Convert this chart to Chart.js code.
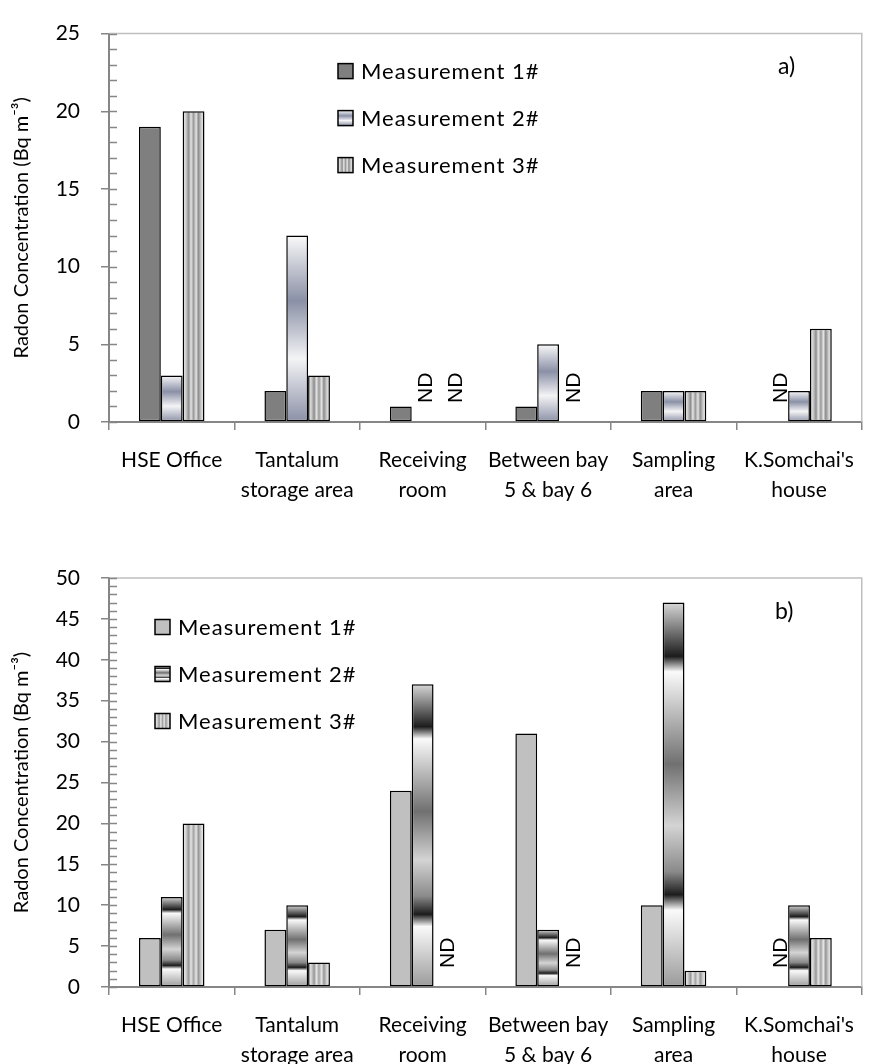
<!DOCTYPE html>
<html>
<head>
<meta charset="utf-8">
<script src="https://cdn.jsdelivr.net/npm/chart.js@4.4.1/dist/chart.umd.min.js"></script>
<style>
  body { margin: 0; background: #fff; }
  .box { position: relative; width: 869px; }
</style>
</head>
<body>
<div class="box" style="height:530px"><canvas id="chartA"></canvas></div>
<div class="box" style="height:534px"><canvas id="chartB"></canvas></div>
<script>
// categories and measurements (null = ND, not detected)
const categories = [
  ['HSE Office'],
  ['Tantalum', 'storage area'],
  ['Receiving', 'room'],
  ['Between bay', '5 & bay 6'],
  ['Sampling', 'area'],
  ["K.Somchai's", 'house']
];
const seriesNames = ['Measurement 1#', 'Measurement 2#', 'Measurement 3#'];

// panel a)
const aMeas1 = [19, 2, 1, 1, 2, null];
const aMeas2 = [3, 12, null, 5, 2, 2];
const aMeas3 = [20, 3, null, null, 2, 6];
const aTickLabels = [0, 5, 10, 15, 20, 25];

// panel b)
const bMeas1 = [6, 7, 24, 31, 10, null];
const bMeas2 = [11, 10, 37, 7, 47, 10];
const bMeas3 = [20, 3, null, null, 2, 6];
const bTickLabels = [0, 5, 10, 15, 20, 25, 30, 35, 40, 45, 50];

const CAT_PCT = 0.522;
const AXIS_GREY = '#868686';

// fill styles (solid, gradient along bar height, gradient across bar width)
const styleA = [
  { kind: 'solid', color: '#7f7f7f' },
  { kind: 'vgrad', stops: [[0, '#fafafa'], [0.35, '#8a90a6'], [0.66, '#f4f4f6'], [1, '#8a90a6']] },
  { kind: 'hgrad', stops: [[0, '#ececec'], [0.14, '#d0d0d0'], [0.28, '#8c8c8c'], [0.38, '#e4e4e4'], [0.5, '#9a9a9a'],
                           [0.62, '#e4e4e4'], [0.72, '#8c8c8c'], [0.86, '#d0d0d0'], [1, '#ececec']] }
];
const styleB = [
  { kind: 'solid', color: '#c0c0c0' },
  { kind: 'vgrad', stops: [[0, '#d8d8d8'], [0.14, '#1c1c1c'], [0.18, '#fafafa'], [0.42, '#707070'], [0.58, '#d4d4d4'],
                           [0.7, '#8a8a8a'], [0.76, '#1c1c1c'], [0.8, '#fafafa'], [1, '#9a9a9a']] },
  { kind: 'hgrad', stops: [[0, '#f0f0f0'], [0.14, '#d6d6d6'], [0.28, '#969696'], [0.38, '#e6e6e6'], [0.5, '#a4a4a4'],
                           [0.62, '#e6e6e6'], [0.72, '#969696'], [0.86, '#d6d6d6'], [1, '#f0f0f0']] }
];

function paint(ctx, st, x0, y0, x1, y1) {
  if (st.kind === 'solid') return st.color;
  if (![x0, y0, x1, y1].every(Number.isFinite) || x0 === x1 || y0 === y1) return st.stops[0][1];
  const g = st.kind === 'vgrad' ? ctx.createLinearGradient(0, y0, 0, y1) : ctx.createLinearGradient(x0, 0, x1, 0);
  st.stops.forEach(s => g.addColorStop(s[0], s[1]));
  return g;
}

function barFill(st) {
  return function (c) {
    if (st.kind === 'solid') return st.color;
    const chart = c.chart, xs = chart.scales.x, ys = chart.scales.y;
    if (c.type !== 'data' || !xs || !ys || c.raw == null) return st.stops[0][1];
    const barW = xs.width / chart.data.labels.length * CAT_PCT / 3;
    const cx = xs.getPixelForValue(c.dataIndex) + (c.datasetIndex - 1) * barW;
    return paint(chart.ctx, st, cx - barW / 2, ys.getPixelForValue(c.raw), cx + barW / 2, ys.getPixelForValue(0));
  };
}

// plot frame + minor ticks inside the plot
const framePlugin = {
  id: 'frame',
  beforeDatasetsDraw(chart) {
    const { ctx, chartArea: a } = chart;
    const ys = chart.scales.y;
    ctx.save();
    ctx.strokeStyle = '#bfbfbf';
    ctx.lineWidth = 1.5;
    ctx.beginPath();
    ctx.moveTo(a.left, a.top);
    ctx.lineTo(a.right, a.top);
    ctx.lineTo(a.right, a.bottom);
    ctx.stroke();
    ctx.strokeStyle = AXIS_GREY;
    ctx.beginPath();
    ys.ticks.forEach(t => {
      const py = Math.round(ys.getPixelForValue(t.value)) + 0.5;
      ctx.moveTo(a.left, py);
      ctx.lineTo(a.left + 8, py);
    });
    ctx.stroke();
    ctx.restore();
  }
};

// "ND" marks for missing values
const ndPlugin = {
  id: 'ndMarks',
  afterDatasetsDraw(chart) {
    const { ctx } = chart;
    const xs = chart.scales.x, ys = chart.scales.y;
    const barW = xs.width / chart.data.labels.length * CAT_PCT / 3;
    ctx.save();
    ctx.font = '21px "Liberation Sans"';
    ctx.fillStyle = '#000';
    ctx.textAlign = 'left';
    ctx.textBaseline = 'middle';
    chart.data.datasets.forEach((ds, di) => {
      ds.data.forEach((v, i) => {
        if (v !== null) return;
        // a lone ND after another ND sits a little further right, as in the source
        const prevND = di > 0 && chart.data.datasets[di - 1].data[i] === null;
        const x = xs.getPixelForValue(i) + (di - 1) * barW + (prevND ? 12 : 4);
        const y = ys.getPixelForValue(0) - 19;
        ctx.save();
        ctx.translate(x, y);
        ctx.rotate(-Math.PI / 2);
        ctx.fillText('ND', 0, 0);
        ctx.restore();
      });
    });
    ctx.restore();
  }
};

// legend drawn inside the plot, plus the panel tag
const boxLegend = {
  id: 'boxLegend',
  afterDraw(chart, args, o) {
    const { ctx } = chart;
    const top = chart.chartArea.top;
    ctx.save();
    ctx.font = '22px Lato';
    ctx.letterSpacing = '1px';
    ctx.textBaseline = 'middle';
    chart.data.datasets.forEach((ds, i) => {
      const y = top + o.y + i * o.gap;
      const st = o.styles[i];
      ctx.fillStyle = paint(ctx, st, o.x, y - 7.5, o.x + 15, y + 7.5);
      ctx.fillRect(o.x, y - 7.5, 15, 15);
      ctx.strokeStyle = '#000';
      ctx.lineWidth = 1.5;
      ctx.strokeRect(o.x, y - 7.5, 15, 15);
      ctx.fillStyle = '#000';
      ctx.fillText(ds.label, o.x + 23, y + 1);
    });
    ctx.letterSpacing = '0px';
    ctx.font = '23px Lato';
    ctx.fillText(o.tag, o.tagX, top + o.tagY);
    ctx.restore();
  }
};

function makeChart(id, values, styles, ticks, xAxisH, padTop, legendOpts) {
  return new Chart(id, {
    type: 'bar',
    data: {
      labels: categories,
      datasets: values.map((vals, i) => ({
        label: seriesNames[i],
        data: vals,
        backgroundColor: barFill(styles[i]),
        borderColor: '#000',
        borderWidth: 1.5,
        borderSkipped: false,
        categoryPercentage: CAT_PCT,
        barPercentage: 1
      }))
    },
    options: {
      responsive: true,
      maintainAspectRatio: false,
      animation: false,
      layout: { padding: { top: padTop, right: 1, left: 0, bottom: 0 } },
      plugins: {
        legend: { display: false },
        tooltip: { enabled: false },
        boxLegend: Object.assign({ styles: styles }, legendOpts)
      },
      scales: {
        x: {
          afterFit: s => { s.height = xAxisH; },
          border: { color: AXIS_GREY, width: 2 },
          grid: { drawOnChartArea: false, tickLength: 8, color: AXIS_GREY, lineWidth: 1.5, offset: true },
          ticks: {
            padding: 15, color: '#000', maxRotation: 0, autoSkip: false,
            font: { family: 'Lato', size: 21, lineHeight: 1.43 }
          }
        },
        y: {
          min: 0,
          max: ticks[ticks.length - 1],
          afterFit: s => { s.width = 109; },
          border: { color: AXIS_GREY, width: 2 },
          grid: {
            drawOnChartArea: false, tickLength: 8, lineWidth: 1.5,
            color: c => (c.tick && ticks.includes(c.tick.value)) ? AXIS_GREY : 'rgba(0,0,0,0)'
          },
          ticks: {
            stepSize: 1, autoSkip: false, padding: 21, color: '#000',
            font: { family: 'Lato', size: 21 },
            callback: v => ticks.includes(v) ? String(v) : ''
          },
          title: {
            display: true,
            text: 'Radon Concentration (Bq m\u207B\u00B3)',
            color: '#000',
            font: { family: 'Lato', size: 20 },
            padding: { top: 10, bottom: 0 }
          }
        }
      }
    },
    plugins: [framePlugin, ndPlugin, boxLegend]
  });
}

makeChart('chartA', [aMeas1, aMeas2, aMeas3], styleA, aTickLabels, 108, 14,
  { x: 338, y: 37.5, gap: 47, tag: 'a)', tagX: 778, tagY: 33 });
makeChart('chartB', [bMeas1, bMeas2, bMeas3], styleB, bTickLabels, 77, 48,
  { x: 155, y: 49, gap: 47, tag: 'b)', tagX: 775, tagY: 34 });
</script>
</body>
</html>
